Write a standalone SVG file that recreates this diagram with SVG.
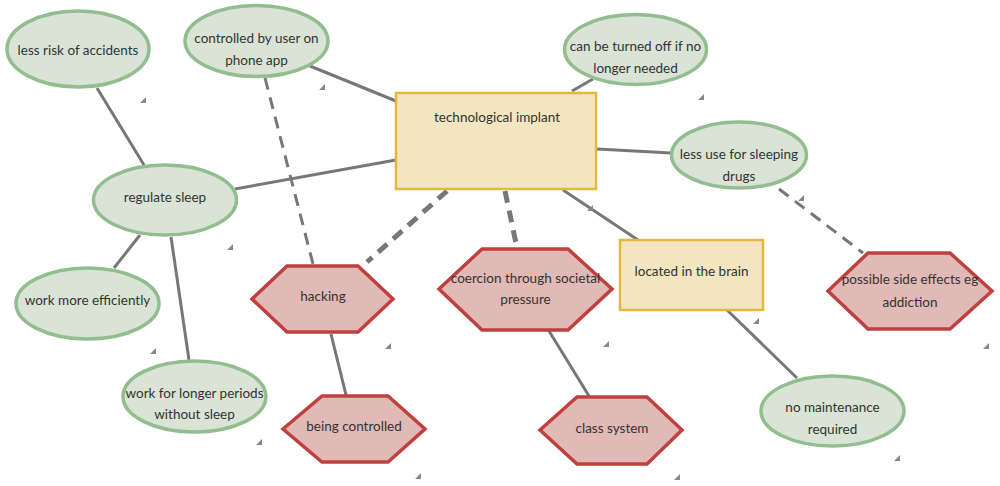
<svg xmlns="http://www.w3.org/2000/svg" width="1000" height="486" viewBox="0 0 1000 486">
<style>
.bg{fill:#ffffff}
.c{stroke:#777;stroke-width:3;fill:none}
.d{stroke:#777;stroke-width:3;fill:none;stroke-dasharray:12 8}
.dt{stroke:#777;stroke-width:5;fill:none;stroke-dasharray:12 8}
.g{fill:#d9e4d6;stroke:#92bd8f;stroke-width:3.5}
.r{fill:#e1b9b6;stroke:#c0403f;stroke-width:3.5;stroke-linejoin:miter}
.y{fill:#f2e5c0;stroke:#e4b83c;stroke-width:2.5}
.h{fill:#888}
text{font-family:Lato,"Open Sans","Noto Sans",sans-serif;font-size:13.5px;fill:#333;text-anchor:middle;dominant-baseline:central}
</style>
<rect class="bg" x="0" y="0" width="1000" height="486"/>
<g id="connectors">
<line class="c" x1="97" y1="88" x2="144" y2="165"/>
<line class="c" x1="235" y1="189" x2="396" y2="160"/>
<line class="c" x1="310" y1="66" x2="396" y2="101"/>
<line class="c" x1="140" y1="235" x2="114" y2="268"/>
<line class="c" x1="171" y1="237" x2="189" y2="360"/>
<line class="d" x1="265" y1="78" x2="313" y2="264"/>
<line class="dt" x1="447" y1="191" x2="367" y2="262"/>
<line class="dt" x1="505" y1="191" x2="517" y2="248"/>
<line class="c" x1="331" y1="334" x2="346" y2="395"/>
<line class="c" x1="572" y1="91" x2="593" y2="79"/>
<line class="c" x1="597" y1="149" x2="671" y2="153"/>
<line class="c" x1="563" y1="190" x2="638" y2="240"/>
<line class="d" x1="779" y1="189" x2="863" y2="253"/>
<line class="c" x1="549" y1="331" x2="589" y2="396"/>
<line class="c" x1="727" y1="310" x2="797" y2="378"/>
</g>
<g id="n-less-risk">
<ellipse class="g" cx="78" cy="49" rx="71" ry="38"/>
<text x="78" y="50">less risk of accidents</text>
<polygon class="h" points="140,103 146,97 146,103"/>
</g>
<g id="n-controlled-user">
<ellipse class="g" cx="256.5" cy="41" rx="71.5" ry="35.5"/>
<text x="256.5" y="38">controlled by user on</text>
<text x="256.5" y="60">phone app</text>
<polygon class="h" points="319,90 325,84 325,90"/>
</g>
<g id="n-implant">
<rect class="y" x="396" y="93" width="200" height="96"/>
<text x="497" y="117">technological implant</text>
<polygon class="h" points="587,211 593,205 593,211"/>
</g>
<g id="n-turned-off">
<ellipse class="g" cx="635.5" cy="49.5" rx="71" ry="35"/>
<text x="635.5" y="46">can be turned off if no</text>
<text x="635.5" y="68">longer needed</text>
<polygon class="h" points="698,100 704,94 704,100"/>
</g>
<g id="n-less-use">
<ellipse class="g" cx="739" cy="155" rx="67.5" ry="33"/>
<text x="739" y="154">less use for sleeping</text>
<text x="739" y="176">drugs</text>
<polygon class="h" points="798,201 804,195 804,201"/>
</g>
<g id="n-regulate">
<ellipse class="g" cx="165" cy="200" rx="71.5" ry="35"/>
<text x="165" y="197">regulate sleep</text>
<polygon class="h" points="227,250 233,244 233,250"/>
</g>
<g id="n-efficiently">
<ellipse class="g" cx="87.5" cy="303.5" rx="71.5" ry="35.5"/>
<text x="87.5" y="300">work more efficiently</text>
<polygon class="h" points="150,354 156,348 156,354"/>
</g>
<g id="n-longer">
<ellipse class="g" cx="194.5" cy="396.5" rx="71.5" ry="35.5"/>
<text x="194.5" y="393">work for longer periods</text>
<text x="194.5" y="414">without sleep</text>
<polygon class="h" points="256,445 262,439 262,445"/>
</g>
<g id="n-hacking">
<polygon class="r" points="252,299 287,266 358,266 393,299 358,332 287,332"/>
<text x="323" y="296">hacking</text>
<polygon class="h" points="385,349 391,343 391,349"/>
</g>
<g id="n-being-controlled">
<polygon class="r" points="283,429 322,396 388,396 425,429 388,462 322,462"/>
<text x="354" y="426">being controlled</text>
<polygon class="h" points="415,479 421,473 421,479"/>
</g>
<g id="n-coercion">
<polygon class="r" points="439,289 482,249 568,249 612,289 568,330 482,330"/>
<text x="525.5" y="278">coercion through societal</text>
<text x="525.5" y="299">pressure</text>
<polygon class="h" points="603,347 609,341 609,347"/>
</g>
<g id="n-class">
<polygon class="r" points="540,430 577,397 647,397 682,430 647,464 577,464"/>
<text x="612" y="428">class system</text>
<polygon class="h" points="674,480 680,474 680,480"/>
</g>
<g id="n-brain">
<rect class="y" x="620" y="240" width="143" height="70"/>
<text x="691.5" y="271">located in the brain</text>
<polygon class="h" points="753,324 759,318 759,324"/>
</g>
<g id="n-side-effects">
<polygon class="r" points="828,291 868,253 950,253 992,291 950,329 868,329"/>
<text x="910" y="279">possible side effects eg</text>
<text x="910" y="302">addiction</text>
<polygon class="h" points="983,349 989,343 989,349"/>
</g>
<g id="n-maintenance">
<ellipse class="g" cx="832.5" cy="411" rx="71.5" ry="35"/>
<text x="832.5" y="407">no maintenance</text>
<text x="832.5" y="429">required</text>
<polygon class="h" points="894,461 900,455 900,461"/>
</g>
</svg>
